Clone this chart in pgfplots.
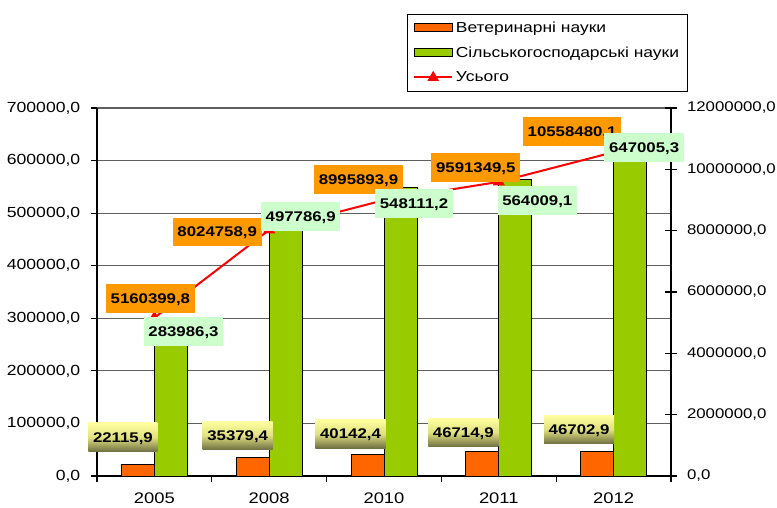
\documentclass[border=0pt]{standalone}
\usepackage{pgfplots}
\pgfplotsset{compat=1.18}
\usepackage{pgfplotstable}
\usepackage{fontspec}
\setmainfont{Liberation Sans}[FakeStretch=1.2]
\definecolor{vetc}{RGB}{255,102,0}
\definecolor{agrc}{RGB}{153,204,0}
\definecolor{totc}{RGB}{255,0,0}
\definecolor{gridc}{RGB}{95,95,95}
\definecolor{lblg}{RGB}{204,255,204}
\definecolor{lblo}{RGB}{255,153,0}
\definecolor{lblyA}{RGB}{255,255,160}
\definecolor{lblyB}{RGB}{225,225,130}
\definecolor{lblyC}{RGB}{110,110,65}

% x: category index, y: value, lab: printed label, dx/dy: label offset in px
\pgfplotstableread{
x y lab dx dy
0 22115.9 22115,9 -15 27
1 35379.4 35379,4 -15 22
2 40142.4 40142,4 -17 21
3 46714.9 46714,9 -19 19
4 46702.9 46702,9 -18 22
}\vet

\pgfplotstableread{
x y lab dx dy
0 283986.3 283986,3 12.6 -4.8
1 497786.9 497786,9 15 -2
2 548111.2 548111,2 13.5 -16
3 564009.1 564009,1 22 -21
4 647005.3 647005,3 14 -12
}\agr

\pgfplotstableread{
x y lab dx dy
0 5160399.8 5160399,8 -4 19
1 8024758.9 8024758,9 -52 -2
2 8995893.9 8995893,9 -25.5 21
3 9591349.5 9591349,5 -23 14.5
4 10558480.1 10558480,1 -41.5 20.5
}\tot

\tikzset{
  lbl/.style={font=\bfseries\fontsize{10.5}{12}\selectfont, text=black,
    inner xsep=3.5pt, inner ysep=7pt,
    text height=7.6pt, text depth=0pt, anchor=center,
    xshift=\dx*0.75pt, yshift=\dy*0.75pt},
}
\pgfplotsset{
  base/.style={
    width=430.5pt, height=276pt, scale only axis,
    xmin=-0.5, xmax=4.5, at={(0,0)}, anchor=south west,
    scaled y ticks=false,
    /pgf/number format/fixed,
    /pgf/number format/fixed zerofill,
    /pgf/number format/precision=1,
    /pgf/number format/use comma,
    /pgf/number format/1000 sep={},
    /pgf/number format/assume math mode=true,
    tick label style={font=\fontsize{11}{13}\selectfont},
  },
  labels/.style={nodes near coords, point meta=explicit symbolic,
    visualization depends on={\thisrow{dx}\as\dx},
    visualization depends on={\thisrow{dy}\as\dy},
    every node near coord/.append style={lbl,#1}},
}

\begin{document}
\begin{tikzpicture}
% bars, left axis, grid
\begin{axis}[base, ybar=0pt, bar width=24.75pt,
  ymin=0, ymax=700000, ytick distance=100000,
  axis x line*=bottom, axis y line*=left,
  ymajorgrids, grid style={gridc, line width=0.9pt},
  axis line style={black, line width=0.9pt},
  tick style={black, line width=0.9pt},
  tick align=outside, major tick length=4.5pt,
  xtick={-0.5,0.5,1.5,2.5,3.5,4.5}, x tick label as interval,
  xticklabels={2005,2008,2010,2011,2012},
  xticklabel style={font=\fontsize{11.5}{13}\selectfont, yshift=-4.5pt},
  yticklabel style={xshift=-4.5pt},
]
\addplot[fill=vetc, draw=black, line width=0.75pt] table[x=x,y=y]{\vet};
\addplot[fill=agrc, draw=black, line width=0.75pt] table[x=x,y=y]{\agr};
\end{axis}
% line, right axis, legend
\begin{axis}[base, ymin=0, ymax=12000000, ytick distance=2000000,
  axis y line*=right, axis x line=none, clip=false,
  axis line style={black, line width=0.9pt},
  tick style={black, line width=0.9pt},
  tick align=center, major tick length=9pt,
  yticklabel style={xshift=4pt, font=\fontsize{10.5}{12}\selectfont},
  legend style={at={(1.0296,1.2554)}, anchor=north east, draw=black,
    fill=white, font=\fontsize{10.9}{12.5}\selectfont,
    cells={anchor=west}, row sep=5.3pt, inner xsep=4.5pt, inner ysep=3.5pt},
]
\addlegendimage{legend image code/.code={\draw[fill=vetc,draw=black,line width=0.75pt] (0pt,-3pt) rectangle (28.5pt,3pt);}}
\addlegendimage{legend image code/.code={\draw[fill=agrc,draw=black,line width=0.75pt] (0pt,-3pt) rectangle (28.5pt,3pt);}}
\addlegendimage{legend image code/.code={\draw[totc, line width=1.5pt, mark=triangle*, mark size=3.5pt, mark options={fill=totc, solid}, mark repeat=2, mark phase=2] plot coordinates {(0pt,0pt) (14.25pt,0pt) (28.5pt,0pt)};}}
\addplot[totc, line width=1.5pt, mark=triangle*, mark size=3.8pt,
  mark options={fill=totc, solid}, forget plot]
  table[x=x,y=y]{\tot};
\addplot[draw=none, forget plot, labels={fill=lblo}] table[x=x,y=y,meta=lab]{\tot};
\legend{Ветеринарні науки, Сільськогосподарські науки, Усього}
\end{axis}
% bar value labels on top
\begin{axis}[base, hide axis, ybar=0pt, bar width=24.75pt,
  ymin=0, ymax=700000, clip=false]
\addplot[draw=none, fill=none, labels={top color=lblyA, bottom color=lblyC, middle color=lblyB}] table[x=x,y=y,meta=lab]{\vet};
\addplot[draw=none, fill=none, labels={fill=lblg}] table[x=x,y=y,meta=lab]{\agr};
\end{axis}
\pgfresetboundingbox
\useasboundingbox (-72.75pt,-23.25pt) rectangle (510pt,357pt);
\end{tikzpicture}
\end{document}
